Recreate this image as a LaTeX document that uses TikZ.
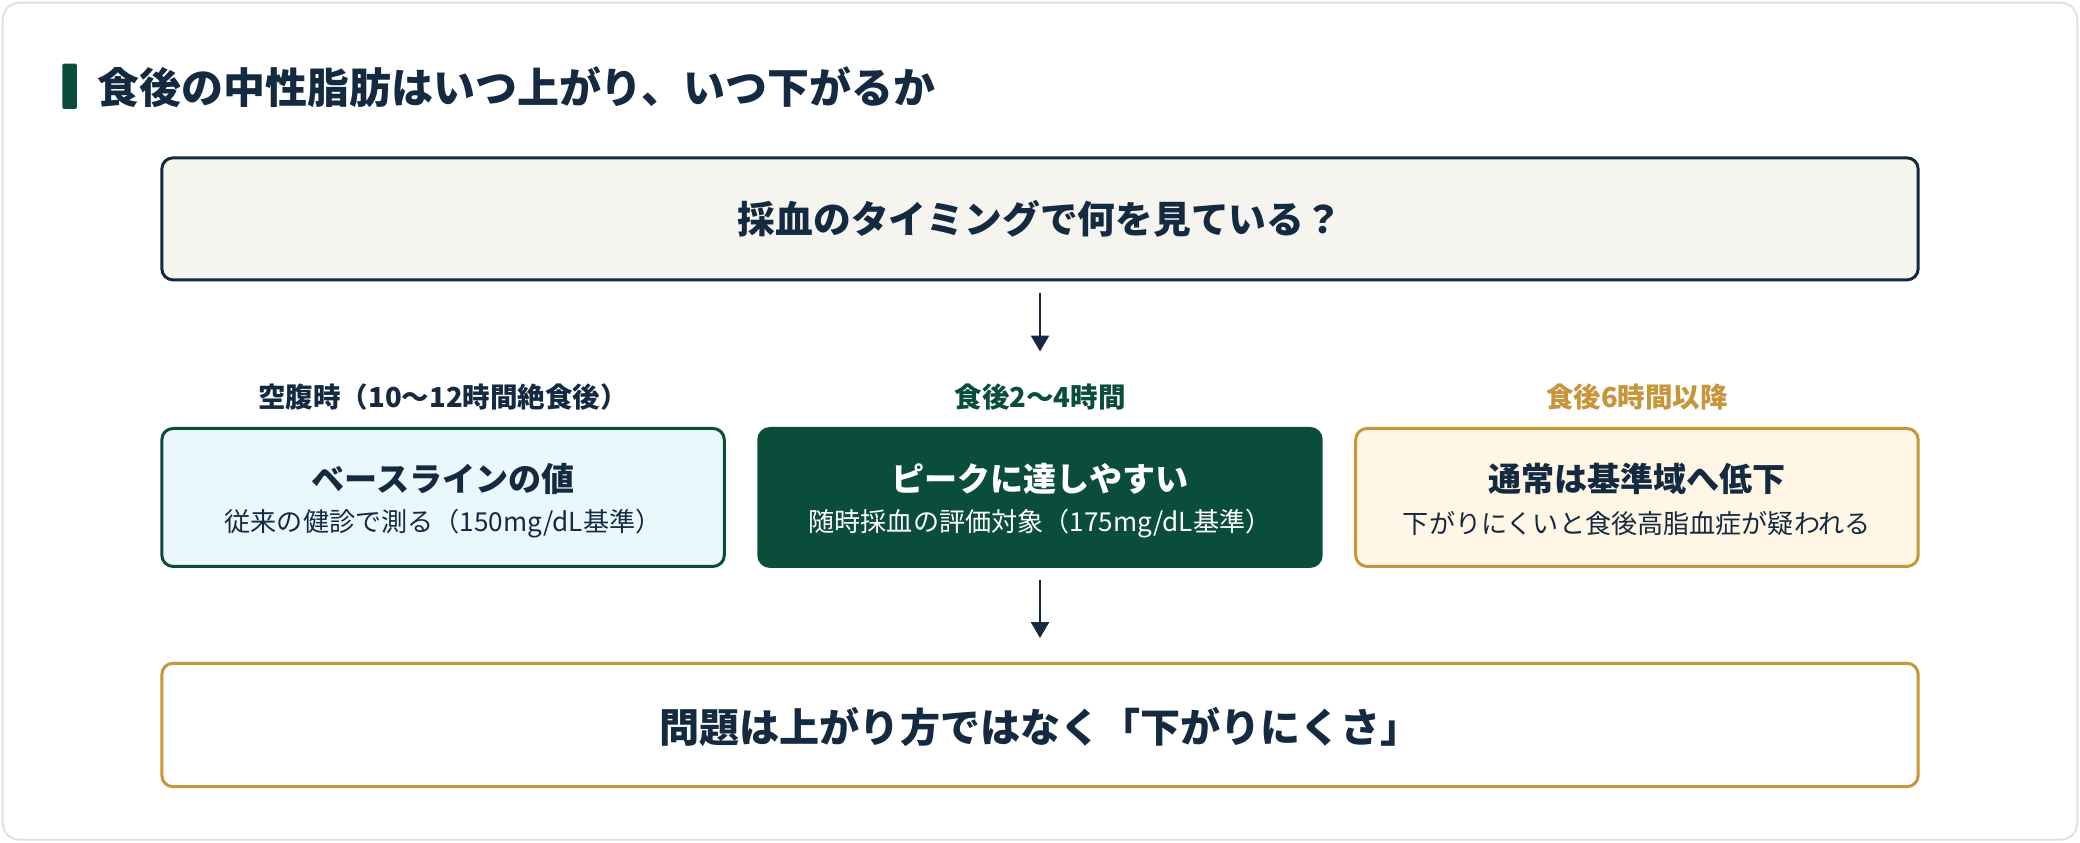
\documentclass[tikz,border=0pt]{standalone}
\usepackage{fontspec}
\setmainfont{Noto Sans CJK JP}
\definecolor{navy}{HTML}{142A40}
\definecolor{dgreen}{HTML}{0B4D3B}
\definecolor{gold}{HTML}{C8963A}
\definecolor{lblue}{HTML}{EAF7FC}
\definecolor{cream}{HTML}{FFF6E5}
\definecolor{topf}{HTML}{F5F4EF}
\definecolor{outer}{HTML}{E2E0D4}
\usetikzlibrary{arrows.meta}
\begin{document}
\begin{tikzpicture}[x=0.05cm,y=-0.05cm,
 box/.style={draw,line width=3.2pt,rounded corners=12pt},
 arr/.style={line width=3pt,draw=navy,-{Triangle[length=17pt,width=19pt]}},
 lab/.style={font=\fontsize{29.5}{33}\selectfont\bfseries},
 head/.style={font=\fontsize{35.5}{40}\selectfont\bfseries},
 sub/.style={font=\fontsize{28}{32}\selectfont}]
\useasboundingbox (0,0) rectangle (1568,635);
\draw[outer,line width=2pt,rounded corners=18pt,fill=white] (2,2) rectangle (1566,633);
\fill[dgreen,rounded corners=1.5pt] (47,48) rectangle (58,82);
\node[anchor=west,text=navy,font=\fontsize{45}{50}\selectfont\bfseries] (title) at (71,66) {食後の中性脂肪はいつ上がり、いつ下がるか};
\draw[box,draw=navy,fill=topf] (122,119) rectangle (1446,211);
\node[text=navy,font=\fontsize{40.5}{46}\selectfont\bfseries] (q) at (784,165) {採血のタイミングで何を見ている？};
\draw[box,draw=dgreen,fill=lblue] (122,323) rectangle (546,427);
\draw[box,draw=dgreen,fill=dgreen] (572,323) rectangle (996,427);
\draw[box,draw=gold,fill=cream] (1022,323) rectangle (1446,427);
\node[lab,text=navy] (l1) at (334,299) {空腹時（10〜12時間絶食後）};
\node[lab,text=dgreen] (l2) at (784,299) {食後2〜4時間};
\node[lab,text=gold] (l3) at (1234,299) {食後6時間以降};
\node[head,text=navy] (h1) at (334,361) {ベースラインの値};
\node[sub,text=navy] (s1) at (334,395) {従来の健診で測る（150mg/dL基準）};
\node[head,text=white] (h2) at (784,361) {ピークに達しやすい};
\node[sub,text=white] (s2) at (784,395) {随時採血の評価対象（175mg/dL基準）};
\node[head,text=navy] (h3) at (1234,361) {通常は基準域へ低下};
\node[sub,text=navy] (s3) at (1234,395) {下がりにくいと食後高脂血症が疑われる};
\draw[box,draw=gold,fill=white] (122,500) rectangle (1446,593);
\node[text=navy,font=\fontsize{43}{48}\selectfont\bfseries] (b) at (784,548) {問題は上がり方ではなく「下がりにくさ」};
\coordinate (a1) at (784,221); \coordinate (a2) at (784,265);
\coordinate (a3) at (784,437); \coordinate (a4) at (784,481);
\draw[arr] (a1) -- (a2);
\draw[arr] (a3) -- (a4);
\end{tikzpicture}
\end{document}
